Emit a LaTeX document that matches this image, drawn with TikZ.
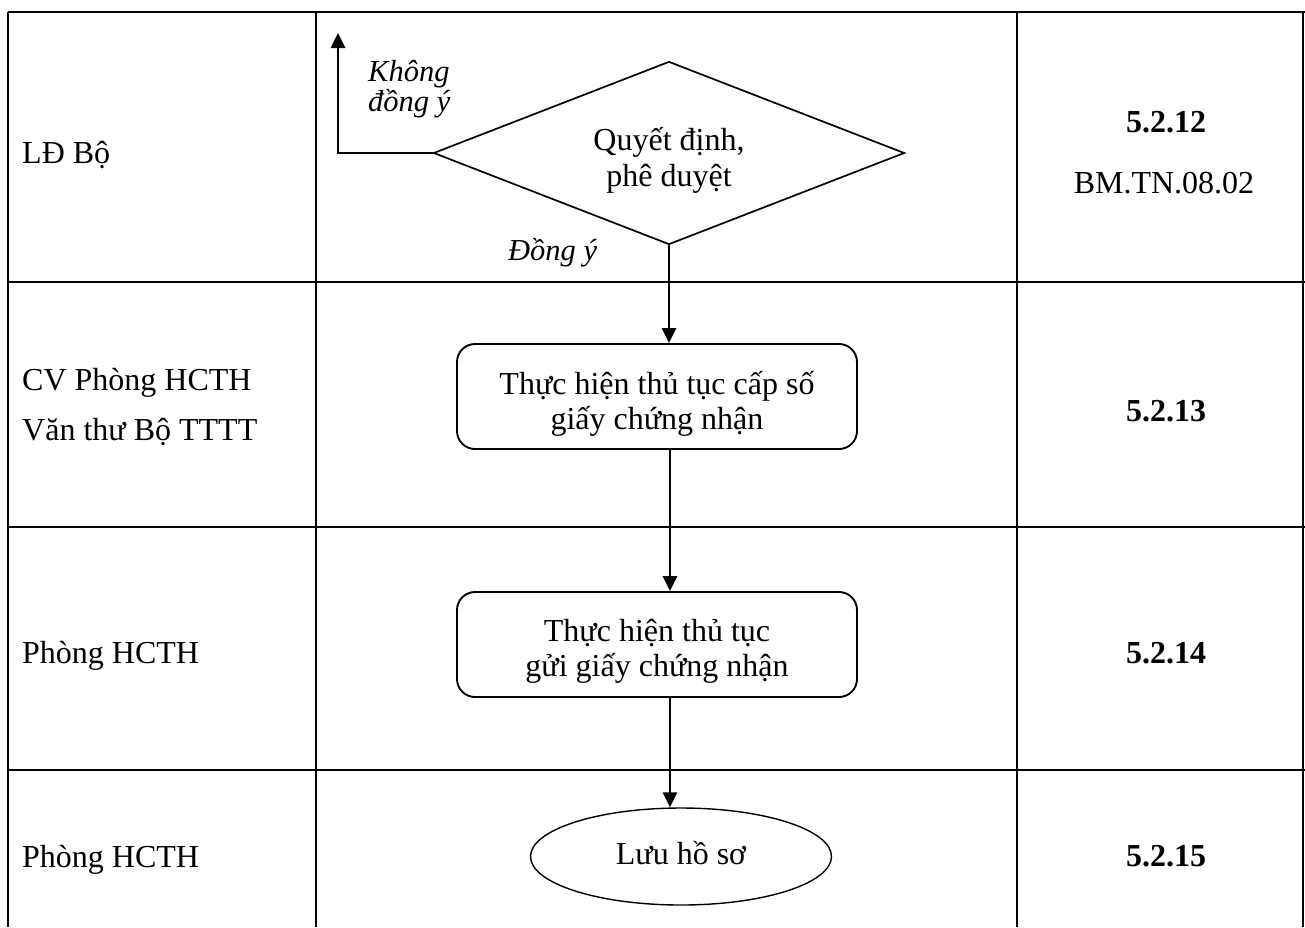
\documentclass[tikz,border=0pt]{standalone}
\usepackage{fontspec}
\setmainfont{Liberation Serif}
\usetikzlibrary{shapes.geometric,arrows.meta}
\newcommand{\topstrut}[1]{\rule{0pt}{#1}}
\begin{document}
\begin{tikzpicture}[x=1pt,y=-1pt,
  every node/.style={font=\fontsize{32}{36}\selectfont, inner sep=0pt},
  tbl/.style={line width=2.6pt},
  conn/.style={line width=2.6pt,-{Triangle[length=15pt,width=14pt]}},
  decision/.style={diamond, draw, line width=1.7pt, aspect=2.57, minimum width=471pt, minimum height=183pt, align=center},
  procbox/.style={rectangle, draw, rounded corners=18pt, line width=1.9pt, minimum width=400pt, minimum height=105pt, align=center, font=\fontsize{32}{35}\selectfont},
  endbox/.style={ellipse, draw, line width=1.4pt, minimum width=301pt, minimum height=97pt, text height=22pt, text depth=7pt},
  lanelabel/.style={anchor=base west},
  reflabel/.style={anchor=base, font=\fontsize{32}{36}\selectfont\bfseries},
  formlabel/.style={anchor=base},
  branch/.style={font=\fontsize{30.5}{27}\selectfont\itshape}
]
\useasboundingbox (0,0) rectangle (1305,927);

% table grid
\draw[tbl] (8,12) -- (1305,12);
\draw[tbl] (8,282) -- (1305,282);
\draw[tbl] (8,527) -- (1305,527);
\draw[tbl] (8,770) -- (1305,770);
\draw[tbl] (8,12) -- (8,927);
\draw[tbl] (316,12) -- (316,927);
\draw[tbl] (1017,12) -- (1017,927);
\draw[tbl] (1303,12) -- (1303,927);

% lane labels
\node[lanelabel] (l1) at (22,163) {LĐ Bộ};
\node[lanelabel] (l2a) at (22,390) {CV Phòng HCTH};
\node[lanelabel] (l2b) at (22,440) {Văn thư Bộ TTTT};
\node[lanelabel] (l3) at (22,663) {Phòng HCTH};
\node[lanelabel] (l4) at (22,867) {Phòng HCTH};

% reference column
\node[reflabel] (r1) at (1166,132) {5.2.12};
\node[formlabel] (f1) at (1164,193) {BM.TN.08.02};
\node[reflabel] (r2) at (1166,421) {5.2.13};
\node[reflabel] (r3) at (1166,663) {5.2.14};
\node[reflabel] (r4) at (1166,866) {5.2.15};

% flow nodes
\node[decision] (d) at (669,153) {\topstrut{38pt}Quyết định,\\phê duyệt};
\node[procbox] (b1) at (657,396.5) {\topstrut{38pt}Thực hiện thủ tục cấp số\\giấy chứng nhận};
\node[procbox] (b2) at (657,644.5) {\topstrut{36pt}Thực hiện thủ tục\\gửi giấy chứng nhận};
\node[endbox] (e) at (681,856.5) {Lưu hồ sơ};

\coordinate (ax) at (670,0);
\coordinate (nd) at (338,33);

% connectors
\draw[conn] (d.south) -- (d.south |- b1.north);
\draw[conn] (ax |- b1.south) -- (ax |- b2.north);
\draw[conn] (ax |- b2.south) -- (ax |- e.north);
\draw[conn] (d.west) -| (nd);

% branch labels
\node[branch, align=left, anchor=west] (no) at (368,89) {Không\\đồng ý};
\node[branch, anchor=base west] (yes) at (508,260) {Đồng ý};
\end{tikzpicture}
\end{document}
